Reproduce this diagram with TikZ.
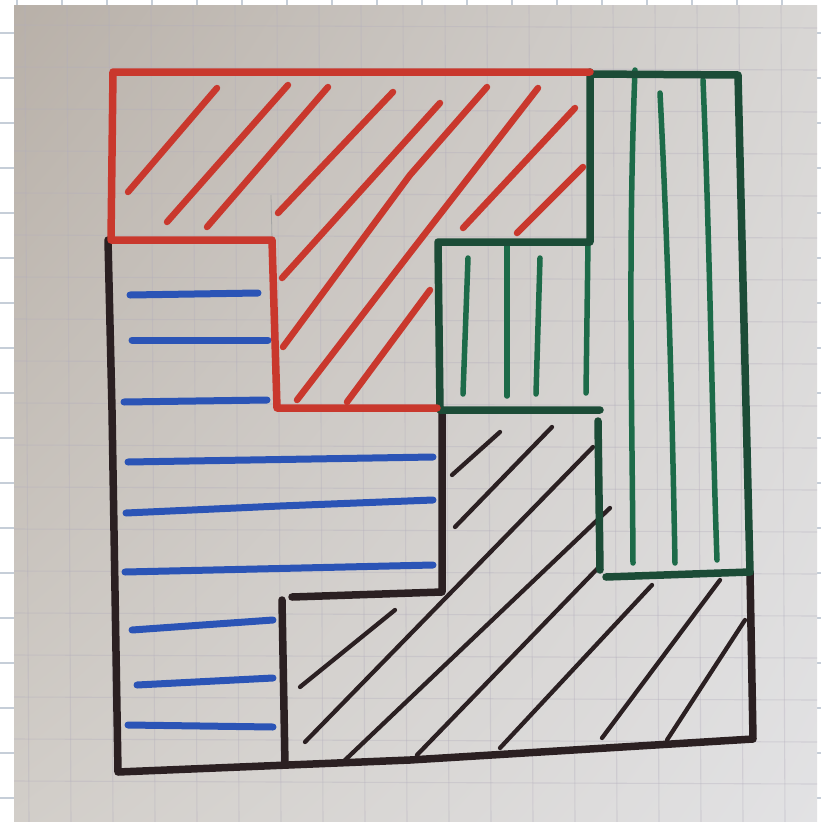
\documentclass[tikz,border=0pt]{standalone}
\usetikzlibrary{shadings}
\definecolor{penred}{HTML}{C9382D}
\definecolor{pengreen}{HTML}{1D6B49}
\definecolor{pendkgreen}{HTML}{1C4C37}
\definecolor{penblue}{HTML}{2B54B6}
\definecolor{penblack}{HTML}{2B2022}
\definecolor{outergridc}{HTML}{C6CED8}
\definecolor{papergrid}{HTML}{B3AEBC}
\definecolor{paperUL}{RGB}{184,176,168}
\definecolor{paperUR}{RGB}{216,214,212}
\definecolor{paperLL}{RGB}{210,206,201}
\definecolor{paperLR}{RGB}{226,226,228}
\begin{document}
\begin{tikzpicture}[x=1pt,y=-1pt,
  outergrid/.style={draw=outergridc,line width=1.6pt},
  pgrid/.style={draw=papergrid,line width=1.1pt,opacity=0.35},
  outl/.style={line width=7.5pt,line cap=round,line join=round},
  redout/.style={outl,draw=penred},
  grnout/.style={outl,draw=pendkgreen},
  blkout/.style={outl,draw=penblack},
  redh/.style={draw=penred,line width=6.5pt,line cap=round},
  grnh/.style={draw=pengreen,line width=5.5pt,line cap=round},
  bluh/.style={draw=penblue,line width=7pt,line cap=round},
  blkh/.style={draw=penblack,line width=4.3pt,line cap=round},
  pencil/.style={draw=gray!70,line width=0.8pt}]
\useasboundingbox (0,0) rectangle (821,822);
% outer white sheet with grid
\fill[white] (0,0) rectangle (821,822);
\foreach \y in {33,78,...,822} \draw[outergrid] (0,\y) -- (821,\y);
\foreach \x in {17,62,...,821} \draw[outergrid] (\x,0) -- (\x,822);
% photo of the paper
\shade[upper left=paperUL, upper right=paperUR,
       lower left=paperLL, lower right=paperLR]
  (14,5) rectangle (817,822);
\begin{scope}
\clip (14,5) rectangle (817,822);
\foreach \x in {25,67,...,817} \draw[pgrid] (\x,5) -- (\x+4,822);
\foreach \y in {25,67,...,822} \draw[pgrid] (14,\y) -- (817,\y+3);
\end{scope}
\draw[pencil] (271,195) -- (272,240);

% ---------- hatching ----------
% red
\draw[redh] (128,192) -- (217,88);
\draw[redh] (167,222) -- (288,85);
\draw[redh] (207,227) -- (328,87);
\draw[redh] (278,213) -- (393,92);
\draw[redh] (282,278) -- (440,103);
\draw[redh] (283,347) -- (410,175) -- (487,87);
\draw[redh] (297,400) -- (410,253) -- (538,88);
\draw[redh] (463,228) -- (575,108);
\draw[redh] (517,233) -- (583,167);
\draw[redh] (347,402) -- (430,290);
% green
\draw[grnh] (468,258) -- (463,394);
\draw[grnh] (507,242) -- (507,396);
\draw[grnh] (540,258) -- (536,394);
\draw[grnh] (588,242) -- (586,393);
\draw[grnh] (635,70) .. controls (628,250) and (632,400) .. (633,563);
\draw[grnh] (660,93) .. controls (668,250) and (672,400) .. (675,563);
\draw[grnh] (703,80) .. controls (710,250) and (712,420) .. (717,560);
% blue
\draw[bluh] (130,295) -- (258,293);
\draw[bluh] (132,340) -- (268,340);
\draw[bluh] (124,402) -- (267,400);
\draw[bluh] (128,462) -- (433,457);
\draw[bluh] (126,513) -- (280,506) -- (433,500);
\draw[bluh] (125,572) -- (433,565);
\draw[bluh] (132,630) -- (273,620);
\draw[bluh] (137,685) -- (273,678);
\draw[bluh] (128,725) -- (273,727);
% black
\draw[blkh] (300,687) -- (395,610);
\draw[blkh] (305,742) -- (593,447);
\draw[blkh] (343,762) -- (610,508);
\draw[blkh] (417,755) -- (598,568);
\draw[blkh] (500,748) -- (652,585);
\draw[blkh] (602,738) -- (720,580);
\draw[blkh] (667,740) -- (745,620);
\draw[blkh] (452,475) -- (500,432);
\draw[blkh] (455,527) -- (552,427);

% ---------- outlines ----------
% black
\draw[blkout] (108,240) -- (112,410) -- (118,772) -- (410,760) -- (753,739) -- (750,572);
\draw[blkout] (442,410) -- (442,592) -- (292,597);
\draw[blkout] (282,600) -- (285,765);
% green
\draw[grnout] (590,74) -- (738,75) -- (750,572);
\draw[grnout] (590,72) -- (590,242) -- (438,242) -- (440,410) -- (600,410);
\draw[grnout] (598,421) -- (600,570);
\draw[grnout] (606,577) -- (750,572);
% red
\draw[redout] (590,72) -- (113,72) -- (111,240) -- (272,240) -- (277,408) -- (437,408);
\end{tikzpicture}
\end{document}
